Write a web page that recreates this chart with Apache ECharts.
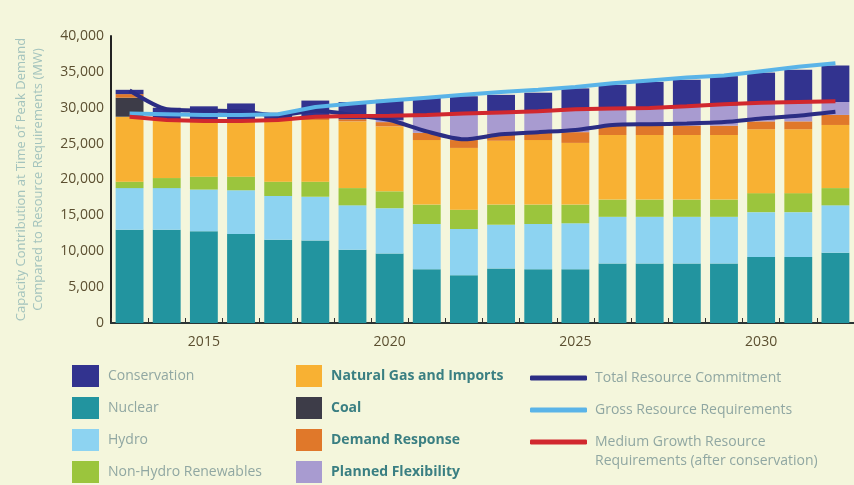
<!DOCTYPE html>
<html>
<head>
<meta charset="utf-8">
<script src="https://cdn.jsdelivr.net/npm/echarts@6/dist/echarts.min.js"></script>
<style>
html,body{margin:0;padding:0;background:#f4f6dc;}
#chart{width:854px;height:485px;}
</style>
</head>
<body>
<div id="chart"></div>
<script>
// ---- data (MW) ----
const years = ['2013','2014','2015','2016','2017','2018','2019','2020','2021','2022','2023','2024','2025','2026','2027','2028','2029','2030','2031','2032'];
const yTicks = [0, 5000, 10000, 15000, 20000, 25000, 30000, 35000, 40000];

const nuclear      = [13000,13000,12800,12400,11600,11500,10200, 9700, 7500, 6650, 7600, 7500, 7500, 8300, 8300, 8300, 8300, 9200, 9200, 9800];
const hydro        = [ 5800, 5800, 5800, 6100, 6100, 6100, 6200, 6300, 6300, 6450, 6100, 6300, 6400, 6500, 6500, 6500, 6500, 6250, 6250, 6600];
const nonHydro     = [  900, 1400, 1800, 1900, 2000, 2100, 2400, 2350, 2700, 2700, 2800, 2700, 2600, 2400, 2400, 2400, 2400, 2650, 2650, 2400];
const naturalGas   = [ 9050, 8000, 7800, 7800, 8500, 8600, 9300, 9050, 9000, 8600, 8900, 9000, 8600, 9000, 9000, 9000, 9000, 8900, 8900, 8800];
const coal         = [ 2650,    0,    0,    0,    0,    0,    0,    0,    0,    0,    0,    0,    0,    0,    0,    0,    0,    0,    0,    0];
const demandResp   = [  500,  200,  200,  200,  200,  300,  300,  600, 1000, 1100, 1000, 1000, 1500, 1300, 1300, 1300, 1300, 1100, 1100, 1400];
const plannedFlex  = [    0,    0,    0,    0,    0,    0,    0,  300, 2500, 3600, 2900, 3000, 3100, 2400, 2500, 2600, 2800, 2500, 2700, 1800];
const conservation = [  600, 1600, 1800, 2200,  900, 2400, 2400, 2800, 2400, 2500, 2500, 2600, 3000, 3300, 3600, 3800, 4100, 4300, 4500, 5100];

const totalCommitment = [32400,29800,29600,29500,28900,29600,29000,28300,26700,25600,26300,26600,26900,27600,27700,27800,28000,28500,28900,29450];
const grossRequirement = [29200,29100,29000,29000,29100,30100,30600,31000,31400,31800,32200,32500,32900,33400,33800,34200,34500,35100,35700,36200];
const mediumGrowth = [28750,28300,28150,28150,28300,28750,28850,28900,29000,29200,29350,29500,29800,29900,29950,30200,30500,30700,30800,30900];

const xLabelYears = ['2015','2020','2025','2030'];

// ---- chart ----
const chart = echarts.init(document.getElementById('chart'), null, {renderer:'canvas'});
const FONT = '"Open Sans", "DejaVu Sans", sans-serif';
const lightText = '#90a7a2';
const boldText = '#3a7f82';

function bar(name, data, color){
  return {name, type:'bar', stack:'s', data, barCategoryGap:'25%',
    itemStyle:{color}, emphasis:{disabled:true}};
}
function line(name, data, color, smooth){
  return {name, type:'line', data, symbol:'none', smooth: smooth||false, z:5,
    lineStyle:{color, width:4}, itemStyle:{color}, emphasis:{disabled:true}};
}

const option = {
  backgroundColor:'#f4f6dc',
  animation:false,
  grid:{left:111, right:-3, top:36, bottom:162, containLabel:false},
  xAxis:{
    type:'category', data:years,
    axisLine:{show:true, lineStyle:{color:'#2a3535', width:2}},
    axisTick:{show:true, inside:true, length:5, interval:0, lineStyle:{color:'#333'}},
    axisLabel:{
      interval:(i, v) => xLabelYears.indexOf(v) >= 0,
      color:'#5b4f30', fontSize:14, fontFamily:FONT, margin:12
    },
    splitLine:{show:false}
  },
  yAxis:{
    type:'value', min:yTicks[0], max:yTicks[yTicks.length-1], interval:yTicks[1]-yTicks[0],
    axisLine:{show:true, lineStyle:{color:'#222', width:2}},
    axisTick:{show:false},
    splitLine:{show:false},
    axisLabel:{color:'#5b4f30', fontSize:14, fontFamily:FONT, margin:7,
      formatter:v => v.toLocaleString('en-US')},
    name:'Capacity Contribution at Time of Peak Demand\nCompared to Resource Requirements (MW)',
    nameLocation:'middle', nameRotate:90, nameGap:64,
    nameTextStyle:{color:'#a3c3bd', fontSize:13, lineHeight:17, fontFamily:FONT}
  },
  legend:[
    {data:['Conservation','Nuclear','Hydro','Non-Hydro Renewables'],
     orient:'vertical', left:72, top:365, height:120, padding:0,
     icon:'rect', itemWidth:27, itemHeight:22, itemGap:10,
     selectedMode:false,
     textStyle:{color:lightText, fontSize:14, fontFamily:FONT, padding:[0,0,0,4]}},
    {data:['Natural Gas and Imports','Coal','Demand Response','Planned Flexibility'],
     orient:'vertical', left:296, top:365, height:120, padding:0,
     icon:'rect', itemWidth:26, itemHeight:22, itemGap:10,
     selectedMode:false,
     textStyle:{color:boldText, fontSize:14, fontWeight:'bold', fontFamily:FONT, padding:[0,0,0,4]}},
    {data:['Total Resource Commitment','Gross Resource Requirements','Medium Growth Resource Requirements (after conservation)'],
     orient:'vertical', left:530, top:368, height:117, padding:0,
     icon:'roundRect', itemWidth:57, itemHeight:5, itemGap:12,
     selectedMode:false,
     formatter:n => n.indexOf('Medium') === 0 ? 'Medium Growth Resource' : n,
     textStyle:{color:lightText, fontSize:14, lineHeight:20, fontFamily:FONT, padding:[0,0,0,3]}}
  ],
  graphic:[
    {type:'text', left:595, top:454,
     style:{text:'Requirements (after conservation)', fill:lightText, font:'14px ' + FONT}}
  ],
  series:[
    bar('Nuclear', nuclear, '#22949f'),
    bar('Hydro', hydro, '#8dd3f1'),
    bar('Non-Hydro Renewables', nonHydro, '#9bc53d'),
    bar('Natural Gas and Imports', naturalGas, '#f8b133'),
    bar('Coal', coal, '#3d3c48'),
    bar('Demand Response', demandResp, '#e0782a'),
    bar('Planned Flexibility', plannedFlex, '#a89bd0'),
    bar('Conservation', conservation, '#32338f'),
    line('Total Resource Commitment', totalCommitment, '#2b2d84', 0.25),
    line('Gross Resource Requirements', grossRequirement, '#5ab4e8'),
    line('Medium Growth Resource Requirements (after conservation)', mediumGrowth, '#d1282e')
  ]
};
chart.setOption(option);
</script>
</body>
</html>
